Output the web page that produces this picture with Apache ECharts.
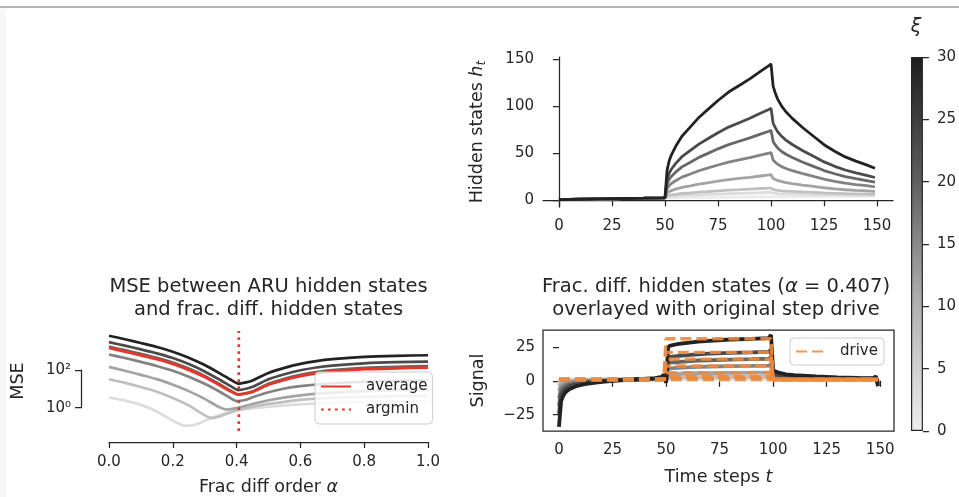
<!DOCTYPE html>
<html><head><meta charset="utf-8">
<script src="https://cdn.jsdelivr.net/npm/echarts@6.0.0/dist/echarts.min.js"></script>
<style>html,body{margin:0;padding:0;background:#fff}#c{width:959px;height:497px}</style>
</head><body><div id="c"></div>
<script>
// ---------- DATA ----------
const XI = [0, 1, 2, 5, 10, 15, 20, 30];              // colorbar parameter of each line
const T_TICKS = [0, 25, 50, 75, 100, 125, 150];
const H_TICKS = [0, 50, 100, 150];
const SIG_TICKS = [-25, 0, 25];
const CB_TICKS = [0, 5, 10, 15, 20, 25, 30];
const ALPHA_TICKS = [0, 0.2, 0.4, 0.6, 0.8, 1.0];

// Top-right: hidden states h_t
const topT = [0,10,20,30,40,50,51,52,53,55,58,62,66,70,75,80,85,90,95,99,100,101,102,103,105,107,110,115,120,125,130,135,140,145,149];
const hXi0  = [0.5,1.0,1.4,1.8,2.1,2.5, 2.5,2.5,2.6,2.6,2.7,2.8,2.9,3.0,3.1,3.2,3.3,3.4,3.45,3.5,3.5, 3.5,3.55,3.55,3.6,3.6,3.7,3.8,3.9,4.0,4.1,4.15,4.2,4.3,4.3];
const hXi1  = [0.5,1.0,1.4,1.8,2.1,2.5, 3.5,3.8,4.1,4.4,4.9,5.3,5.7,6.1,6.5,6.9,7.3,7.6,7.9,8.2,8.2, 7.4,7.2,7.0,6.8,6.6,6.5,6.2,6.0,5.8,5.7,5.5,5.4,5.4,5.3];
const hXi2  = [0.5,1.0,1.4,1.8,2.1,2.5, 4.5,5.1,5.6,6.2,7.1,7.8,8.6,9.2,10.0,10.7,11.2,11.8,12.4,12.8,12.9, 11.3,10.9,10.5,10.0,9.6,9.3,8.7,8.2,7.7,7.3,6.9,6.7,6.5,6.3];
const hXi5  = [0.5,1.0,1.4,1.8,2.1,2.5, 7.4,9.1,10.2,11.7,13.6,15.3,17.1,18.5,20.3,21.8,23.1,24.3,25.7,26.8,27.1, 23.1,22.0,21.0,19.7,18.7,17.6,16.0,14.6,13.2,12.1,11.1,10.4,9.8,9.3];
const hXi10 = [0.5,1.0,1.4,1.8,2.1,2.5, 12.3,15.7,17.7,20.7,24.5,27.9,31.3,34.0,37.4,40.5,42.9,45.3,48.0,50.0,50.7, 42.7,40.4,38.4,35.7,33.7,31.5,28.2,25.3,22.3,20.1,18.1,16.6,15.4,14.2];
const hXi15 = [0.5,1.0,1.4,1.8,2.1,2.5, 17.3,22.3,25.3,29.8,35.4,40.4,45.5,49.5,54.6,59.1,62.7,66.2,70.2,73.3,74.3, 62.3,58.8,55.8,51.8,48.8,45.4,40.4,36.0,31.5,28.1,25.1,22.9,20.9,19.2];
const hXi20 = [0.5,1.0,1.4,1.8,2.1,2.5, 22.2,28.8,32.9,38.9,46.2,52.9,59.6,65.0,71.7,77.7,82.4,87.1,92.5,96.5,97.8, 81.8,77.2,73.2,67.9,63.9,59.2,52.6,46.6,40.7,36.0,32.1,29.1,26.4,24.1];
const hXi30 = [0.5,1.0,1.4,1.8,2.1,2.5, 32,42,48,57,68,78,88,96,106,115,122,129,137,143,145, 121,114,108,100,94,87,77,68,59,52,46,41.5,37.5,34];
const hTop = [hXi0, hXi1, hXi2, hXi5, hXi10, hXi15, hXi20, hXi30];

// Bottom-right: frac. diff. hidden states and drive
const sigT = [0,1,2,3,5,8,12,18,25,35,45,48,49,50,51,52,55,60,65,70,80,90,98,99,100,101,103,106,110,120,130,140,147,148,149];
const sXi0  = [-0.75,0.2,0.4,0.5,0.65,0.7,0.8,0.9,0.95,1,1.05,1.1,1.1,0.9, 0.8,0.8,0.9,0.9,0.9,1.0,1.0,1.0,1.0,1.1, 1,1,1,1,1,1,1,1,1,1,1];
const sXi1  = [-1.8,-0.3,0.0,0.2,0.4,0.6,0.7,0.8,0.9,1,1.1,1.2,1.3,0.8, 1.6,1.7,1.7,1.8,1.9,1.9,2.0,2.0,2.0,2.2, 1.2,1.2,1.2,1.1,1.1,1.1,1.05,1.04,1.03,1.1,0.8];
const sXi2  = [-3.6,-1.1,-0.6,-0.2,0.1,0.35,0.55,0.7,0.9,1,1.1,1.3,1.5,0.7, 2.4,2.5,2.6,2.7,2.8,2.9,3.0,3.0,3.0,3.3, 1.5,1.4,1.3,1.25,1.2,1.15,1.1,1.1,1.05,1.2,0.7];
const sXi5  = [-7.4,-2.8,-1.9,-1.3,-0.7,-0.2,0.2,0.5,0.8,1,1.2,1.5,1.8,0.4, 4.8,5.0,5.2,5.4,5.6,5.7,5.9,6.0,6.1,6.6, 2.2,2.0,1.8,1.6,1.5,1.4,1.3,1.2,1.2,1.4,0.2];
const sXi10 = [-13,-5.4,-3.8,-2.8,-1.8,-1.0,-0.4,0.1,0.6,1,1.4,1.8,2.4,0, 8.9,9.2,9.6,9.9,10.3,10.5,10.8,11.0,11.2,12.1, 3.3,3.0,2.6,2.3,2.1,1.7,1.5,1.4,1.3,1.8,-0.7];
const sXi15 = [-18.6,-8.0,-5.7,-4.3,-2.9,-1.8,-1.0,-0.2,0.4,1,1.6,2.1,3.0,-0.4, 12.9,13.4,13.9,14.4,15.0,15.2,15.7,16.0,16.3,17.6, 4.5,4.0,3.4,2.9,2.6,2.1,1.8,1.6,1.5,2.25,-1.5];
const sXi20 = [-24.2,-10.5,-7.6,-5.8,-4.0,-2.6,-1.5,-0.6,0.3,1,1.7,2.4,3.5,-0.8, 16.9,17.6,18.3,19.0,19.6,20.0,20.7,21.0,21.3,23.0, 5.7,5.0,4.2,3.5,3.1,2.5,2.1,1.8,1.7,2.7,-2.3];
const sXi30 = [-34,-15,-11,-8.5,-6,-4,-2.5,-1.2,0,1.0,2,3,4.5,-1.5, 25,26,27,28,29,29.5,30.5,31,31.5,34, 8,7,5.8,4.8,4.2,3.2,2.6,2.2,2.0,3.5,-4];
const sigHidden = [sXi0, sXi1, sXi2, sXi5, sXi10, sXi15, sXi20, sXi30];

const driveT = [0, 49, 50, 99, 100, 149];
const dXi0  = [1, 1, 1, 1, 1, 1];
const dXi1  = [1, 1, 2, 2, 1, 1];
const dXi2  = [1, 1, 3, 3, 1, 1];
const dXi5  = [1, 1, 6, 6, 1, 1];
const dXi10 = [1, 1, 11, 11, 1, 1];
const dXi15 = [1, 1, 16, 16, 1, 1];
const dXi20 = [1, 1, 21, 21, 1, 1];
const dXi30 = [1, 1, 31, 31, 1, 1];
const drives = [dXi0, dXi1, dXi2, dXi5, dXi10, dXi15, dXi20, dXi30];

// Bottom-left: MSE vs fractional order alpha (log scale)
const aMain = [0,0.05,0.1,0.15,0.2,0.25,0.3,0.35,0.38,0.405,0.43,0.45,0.5,0.55,0.6,0.65,0.7,0.8,0.9,1.0];
const mseXi30 = [6760,4370,2750,1700,955,457,186,63,31.6,19,22.4,28.2,70.8,132,214,302,380,501,575,617];
const mseXi20 = [3090,1995,1259,776,437,209,85,28.8,14.5,8.7,10.2,12.9,32.4,60,98,138,174,229,263,282];
const mseXi15 = [1778,1148,724,447,251,120,49,16.6,8.3,5.0,5.9,7.4,18.6,34.7,56,79,100,132,151,162];
const mseAvg  = [1514,977,617,380,214,102,42.7,14.8,7.6,5.0,5.75,6.9,16.6,30.2,47.9,67.6,85,112,126,135];
const aXi10 = [0,0.05,0.1,0.15,0.2,0.25,0.3,0.35,0.38,0.40,0.43,0.45,0.5,0.55,0.6,0.7,0.8,0.9,1.0];
const mseXi10 = [676,437,275,166,93,44.7,18.6,6.6,3.3,2.24,2.63,3.55,6.6,10.5,14.1,20,24,26.9,28.8];
const aXi5 = [0,0.05,0.1,0.15,0.2,0.25,0.3,0.34,0.37,0.40,0.45,0.5,0.6,0.7,0.8,0.9,1.0];
const mseXi5 = [148,93,56,33,16.6,7.6,2.95,1.2,0.8,0.95,1.58,2.5,4.5,6.3,7.6,8.5,9.1];
const aXi2 = [0,0.05,0.1,0.15,0.2,0.25,0.29,0.32,0.35,0.4,0.45,0.5,0.6,0.7,0.8,0.9,1.0];
const mseXi2 = [32.4,20.9,12.6,7.1,3.3,1.32,0.5,0.28,0.355,0.71,1.12,1.58,2.63,3.3,3.8,4.07,4.27];
const aXi1 = [0,0.05,0.1,0.15,0.2,0.24,0.28,0.32,0.36,0.4,0.5,0.6,0.7,0.8,0.9,1.0];
const mseXi1 = [3.47,2.4,1.41,0.63,0.2,0.107,0.141,0.28,0.48,0.71,1.12,1.51,1.82,2.04,2.19,2.29];
const ARGMIN = 0.407;
const MSE_MIN = 0.0575, MSE_MAX = 12023;

// ---------- STYLE ----------
const FONT = 'DejaVu Sans';
const INK = '#262626';
const GRAYS = ['#ebebeb','#dcdcdc','#c0c0c0','#a3a3a3','#838383','#676767','#4a4a4a','#222222'];
const RED = '#e8352b';
const ORANGE = '#f0893b';
const AX = {color: INK, width: 1.25};
const TICK_FS = 15;
const lab = (extra) => Object.assign({fontSize: TICK_FS, color: INK, fontFamily: FONT}, extra || {});
const nameStyle = {fontSize: 17.5, color: INK, fontFamily: FONT,
  rich: {n: {fontSize: 17.5, color: INK, fontFamily: FONT},
         i: {fontSize: 17.5, color: INK, fontFamily: FONT, fontStyle: 'italic'},
         s: {fontSize: 12.5, color: INK, fontFamily: FONT, fontStyle: 'italic', padding: [9, 0, 0, 0]}}};
const pairs = (xs, ys) => xs.map((x, i) => [x, ys[i]]);
const minus = v => v < 0 ? '\u2212' + Math.abs(v) : String(v);

const series = [];
// top chart
XI.forEach((xi, k) => series.push({type: 'line', name: 'h' + xi, xAxisIndex: 0, yAxisIndex: 0,
  data: pairs(topT, hTop[k]), symbol: 'none', color: GRAYS[k], lineStyle: {width: 2.8, color: GRAYS[k]}, silent: true}));
// MSE chart
const mseSets = [[1, aXi1, mseXi1], [2, aXi2, mseXi2], [3, aXi5, mseXi5], [4, aXi10, mseXi10],
                 [5, aMain, mseXi15], [6, aMain, mseXi20], [7, aMain, mseXi30]];
mseSets.forEach(([k, a, m]) => series.push({type: 'line', name: 'mse' + XI[k], xAxisIndex: 1, yAxisIndex: 1,
  data: pairs(a, m), symbol: 'none', smooth: 0.2, color: GRAYS[k], lineStyle: {width: 2.7, color: GRAYS[k]}, silent: true}));
series.push({type: 'line', name: 'average', xAxisIndex: 1, yAxisIndex: 1, data: pairs(aMain, mseAvg),
  symbol: 'none', smooth: 0.2, color: RED, lineStyle: {width: 2.9, color: RED}, silent: true});
series.push({type: 'line', name: 'argmin', xAxisIndex: 1, yAxisIndex: 1, data: [[ARGMIN, MSE_MIN], [ARGMIN, MSE_MAX]],
  symbol: 'none', color: RED, lineStyle: {width: 2.7, color: RED, type: [2.7, 4.3], cap: 'butt'}, silent: true});
// signal chart
XI.forEach((xi, k) => series.push({type: 'line', name: 's' + xi, xAxisIndex: 4, yAxisIndex: 4,
  data: pairs(sigT, sigHidden[k]), symbol: 'none', color: GRAYS[k], lineStyle: {width: 3.8, color: GRAYS[k]}, silent: true}));
XI.forEach((xi, k) => series.push({type: 'line', name: 'drive', xAxisIndex: 4, yAxisIndex: 4,
  data: pairs(driveT, drives[k]), symbol: 'none', color: ORANGE,
  lineStyle: {width: 3.4, color: ORANGE, type: [11, 5], opacity: 0.9}, silent: true}));
// colorbar
series.push({type: 'bar', xAxisIndex: 5, yAxisIndex: 5, data: [30], barWidth: '100%', silent: true,
  itemStyle: {borderColor: INK, borderWidth: 1.2,
    color: {type: 'linear', x: 0, y: 0, x2: 0, y2: 1, colorStops: [
      {offset: 0, color: '#1e1e1e'}, {offset: 1/6, color: '#3e3e3e'}, {offset: 2/6, color: '#5f5f5f'},
      {offset: 3/6, color: '#8a8a8a'}, {offset: 4/6, color: '#b2b2b2'}, {offset: 5/6, color: '#d2d2d2'},
      {offset: 1, color: '#ededed'}]}}});

const option = {
  animation: false,
  backgroundColor: '#ffffff',
  textStyle: {fontFamily: FONT},
  graphic: [
    {type: 'line', shape: {x1: 0, y1: 7, x2: 959, y2: 7}, style: {stroke: '#b4b4b4', lineWidth: 2}},
    {type: 'rect', shape: {x: 0, y: 9, width: 6, height: 488}, style: {fill: '#f7f7f7'}}
  ],
  title: [
    {text: 'MSE between ARU hidden states\nand frac. diff. hidden states', left: 268.5, top: 276, textAlign: 'center', padding: 0,
     textStyle: {fontSize: 19.5, fontWeight: 'normal', lineHeight: 22.5, color: INK, fontFamily: FONT}},
    {text: '{n|Frac. diff. hidden states (}{i|α}{n| = 0.407)}\n{n|overlayed with original step drive}', left: 716, top: 276, textAlign: 'center', padding: 0,
     textStyle: {fontSize: 19.5, fontWeight: 'normal', lineHeight: 22.5, color: INK, fontFamily: FONT,
       rich: {n: {fontSize: 19.5, lineHeight: 22.5, color: INK, fontFamily: FONT},
              i: {fontSize: 19.5, lineHeight: 22.5, color: INK, fontFamily: FONT, fontStyle: 'italic'}}}},
    {text: 'ξ', left: 916, top: 18, textAlign: 'center', padding: 0,
     textStyle: {fontSize: 19, fontWeight: 'normal', fontStyle: 'italic', color: INK, fontFamily: FONT}}
  ],
  legend: [
    {data: ['average', 'argmin'], left: 315, top: 372, orient: 'vertical', itemWidth: 30, itemHeight: 14, itemGap: 8,
     padding: [7, 5, 7, 5], borderColor: '#cccccc', borderWidth: 1, borderRadius: 4, backgroundColor: 'rgba(255,255,255,0.8)',
     textStyle: {fontSize: 15, color: INK, fontFamily: FONT, padding: [0, 0, 0, 10]}, itemStyle: {opacity: 0}, selectedMode: false},
    {data: ['drive'], left: 790, top: 338, itemWidth: 27, itemHeight: 14, padding: [6, 6, 6, 5],
     borderColor: '#cccccc', borderWidth: 1, borderRadius: 4, backgroundColor: 'rgba(255,255,255,0.8)',
     textStyle: {fontSize: 15, color: INK, fontFamily: FONT, padding: [0, 0, 0, 12]}, itemStyle: {opacity: 0}, selectedMode: false}
  ],
  grid: [
    {left: 543, top: 57, width: 350, height: 150},
    {left: 93, top: 331, width: 351, height: 100},
    {left: 81, top: 370.1, width: 20, height: 37.6},
    {left: 108.95, top: 432, width: 319.1, height: 10},
    {left: 543, top: 330, width: 351, height: 101, show: true, borderColor: INK, borderWidth: 1.25},
    {left: 911, top: 57, width: 13, height: 374}
  ],
  xAxis: [
    {gridIndex: 0, type: 'value', min: -7.5, max: 157.5, splitLine: {show: false},
     axisLine: {show: true, lineStyle: AX}, axisTick: {show: true, length: 6, customValues: T_TICKS, lineStyle: AX},
     axisLabel: lab({customValues: T_TICKS, margin: 12})},
    {gridIndex: 1, type: 'value', min: -0.05, max: 1.05, show: false},
    {gridIndex: 2, type: 'value', show: false},
    {gridIndex: 3, type: 'value', min: 0, max: 1, interval: 0.2, splitLine: {show: false},
     axisLine: {show: true, lineStyle: AX}, axisTick: {show: true, length: 6, lineStyle: AX},
     axisLabel: lab({margin: 13, formatter: v => v.toFixed(1)}),
     name: '{n|Frac diff order }{i|α}', nameLocation: 'middle', nameGap: 36, nameTextStyle: nameStyle},
    {gridIndex: 4, type: 'value', min: -7.45, max: 156.45, splitLine: {show: false},
     axisLine: {show: false}, axisTick: {show: true, length: 6, customValues: T_TICKS, lineStyle: AX},
     axisLabel: lab({customValues: T_TICKS, margin: 12}),
     name: '{n|Time steps }{i|t}', nameLocation: 'middle', nameGap: 37, nameTextStyle: nameStyle},
    {gridIndex: 5, type: 'category', data: ['cb'], show: false}
  ],
  yAxis: [
    {gridIndex: 0, type: 'value', min: -7.25, max: 152.25, splitLine: {show: false},
     axisLine: {show: true, lineStyle: AX}, axisTick: {show: true, length: 6, customValues: H_TICKS, lineStyle: AX},
     axisLabel: lab({customValues: H_TICKS, margin: 9}),
     name: '{n|Hidden states }{i|h}{s|t}', nameLocation: 'middle', nameGap: 55, nameTextStyle: nameStyle},
    {gridIndex: 1, type: 'log', min: MSE_MIN, max: MSE_MAX, splitLine: {show: false},
     axisLine: {show: false}, axisTick: {show: false}, axisLabel: {show: false},
     name: 'MSE', nameLocation: 'middle', nameGap: 66, nameTextStyle: nameStyle},
    {gridIndex: 2, type: 'value', min: 0, max: 2, interval: 2, splitLine: {show: false},
     axisLine: {show: true, lineStyle: AX}, axisTick: {show: true, length: 6, lineStyle: AX},
     axisLabel: lab({margin: 10, formatter: v => v === 0 ? '10⁰' : '10²'})},
    {gridIndex: 3, type: 'value', show: false},
    {gridIndex: 4, type: 'value', min: -37, max: 37.5, splitLine: {show: false},
     axisLine: {show: false}, axisTick: {show: true, length: 6, customValues: SIG_TICKS, lineStyle: AX},
     axisLabel: lab({customValues: SIG_TICKS, margin: 8, formatter: minus}),
     name: 'Signal', nameLocation: 'middle', nameGap: 56, nameTextStyle: nameStyle},
    {gridIndex: 5, type: 'value', min: 0, max: 30, interval: 5, position: 'right', splitLine: {show: false},
     axisLine: {show: false}, axisTick: {show: true, length: 6, lineStyle: AX},
     axisLabel: lab({margin: 14})}
  ],
  series: series
};
const chart = echarts.init(document.getElementById('c'), null, {renderer: 'canvas'});
chart.setOption(option);
</script></body></html>
